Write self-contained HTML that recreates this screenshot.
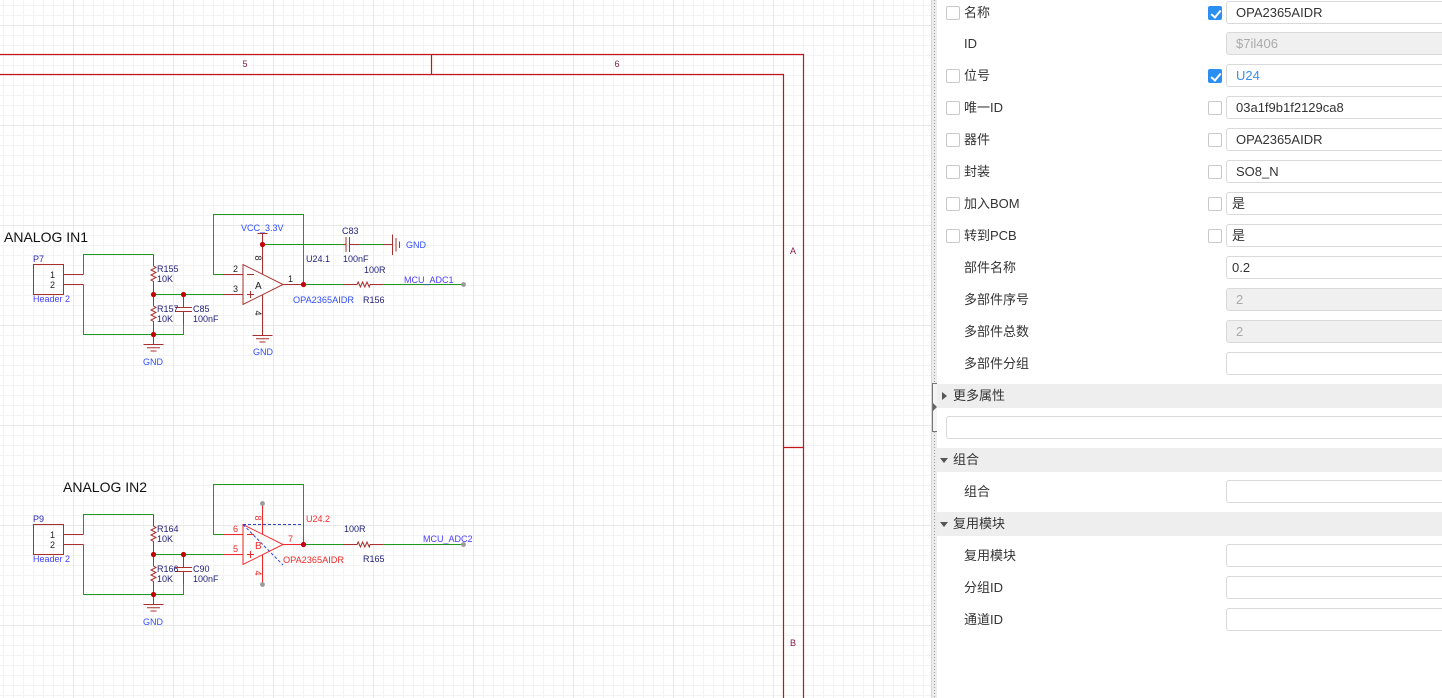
<!DOCTYPE html>
<html><head><meta charset="utf-8">
<style>
*{margin:0;padding:0;box-sizing:border-box}
html,body{width:1442px;height:698px;overflow:hidden;background:#fff;font-family:"Liberation Sans","Noto Sans CJK SC",sans-serif}
#sch{position:absolute;left:0;top:0}
.sep{position:absolute;left:931px;top:0;width:6px;height:698px;background:#ececec;border-left:1px solid #d6d6d6}
.sep:after{content:"";position:absolute;left:2px;top:0;width:1px;height:698px;background:repeating-linear-gradient(to bottom,#9a9a9a 0 1px,transparent 1px 3px)}
.handle{position:absolute;left:932px;top:383px;width:5px;height:49px;border:1px solid #777;border-right:none;background:#f4f4f4}
.handle:after{content:"";position:absolute;left:0;top:19px;border-left:4px solid #666;border-top:4px solid transparent;border-bottom:4px solid transparent}
.panel{position:absolute;left:937px;top:0;width:505px;height:698px;background:#fff;overflow:hidden}
.cb{position:absolute;width:14px;height:14px;border:1px solid #c9c9c9;border-radius:2px;background:#fff}
.cb.on{background:#2b8ff2;border-color:#2b8ff2}
.cb.on:after{content:"";position:absolute;left:4px;top:1px;width:4px;height:8px;border-right:2px solid #fff;border-bottom:2px solid #fff;transform:rotate(40deg)}
.lbl{position:absolute;left:27px;font-size:13px;color:#333;height:23px;line-height:23px;white-space:nowrap}
.inp{position:absolute;left:289px;width:240px;height:23px;border:1px solid #d9d9d9;border-radius:3px;font-size:13px;color:#333;padding-left:9px;line-height:21px;background:#fff;white-space:nowrap}
.inp.dis{background:#f0f0f0;color:#aaa}
.inp.p4{padding-left:5px}
.hdr{position:absolute;left:0;width:505px;height:24px;background:#eeeeee;font-size:13px;color:#333;line-height:24px;padding-left:16px}
.tri-r{position:absolute;left:5px;top:8px;border-left:5px solid #555;border-top:4px solid transparent;border-bottom:4px solid transparent}
.tri-d{position:absolute;left:3px;top:10px;border-top:5px solid #555;border-left:4px solid transparent;border-right:4px solid transparent}
</style></head><body>
<svg id="sch" width="931" height="698" viewBox="0 0 931 698" xmlns="http://www.w3.org/2000/svg" font-family="Liberation Sans, Arial, sans-serif">
<defs>
<pattern id="minor" width="10" height="10" patternUnits="userSpaceOnUse">
<rect x="3" y="0" width="1" height="10" fill="#f3f3f3"/>
<rect x="0" y="5" width="10" height="1" fill="#f3f3f3"/>
</pattern>
<pattern id="major" width="100" height="100" patternUnits="userSpaceOnUse">
<rect x="73" y="0" width="1" height="100" fill="#e8e8e8"/>
<rect x="0" y="25" width="100" height="1" fill="#e8e8e8"/>
</pattern>
</defs>
<rect width="931" height="698" fill="#fff"/>
<rect width="931" height="698" fill="url(#minor)"/>
<rect width="931" height="698" fill="url(#major)"/>

<!-- frame -->
<g stroke="#c2161c" stroke-width="1.2" fill="none">
<path d="M0,54.5 H803.5 V698"/>
<path d="M0,74.5 H783.5 V698"/>
<path d="M431.5,54.5 V74.5"/>
<path d="M783.5,447.5 H803.5"/>
</g>
<g font-size="9" fill="#8b1a4a" text-anchor="middle">
<text x="245" y="67">5</text>
<text x="617" y="67">6</text>
<text x="793" y="254">A</text>
<text x="793" y="646">B</text>
</g>

<!-- ========== CIRCUIT 1 ========== -->
<text x="4" y="242" font-size="14" fill="#111">ANALOG IN1</text>
<text x="33" y="262" font-size="9" fill="#2727b8">P7</text>
<rect x="33.5" y="264.5" width="30" height="30" fill="none" stroke="#a8302f" stroke-width="1"/>
<g font-size="9" fill="#222"><text x="50" y="278">1</text><text x="50" y="288">2</text></g>
<text x="33" y="302" font-size="9" fill="#4040ff">Header 2</text>
<g stroke="#a8302f" stroke-width="1" fill="none">
<path d="M63.5,274.5 H83.5 M63.5,284.5 H83.5"/>
<path d="M153.5,254.5 V266 l2.5,1.5 l-5,2.5 l5,2.5 l-5,2.5 l5,2.5 l-5,2.5 l2.5,1.5 V294.5"/>
<path d="M153.5,294.5 V306 l2.5,1.5 l-5,2.5 l5,2.5 l-5,2.5 l5,2.5 l-5,2.5 l2.5,1.5 V334.5"/>
<path d="M183.5,294.5 V307.5 M183.5,311.5 V324"/>
<path d="M175,307.5 H192 M175,311.5 H192"/>
<path d="M153.5,334.5 V344.5 M143.5,344.5 H163.5 M147,347.8 H160 M150.5,351 H156.5"/>
<path d="M223,294.5 H243"/>
</g>
<g stroke="#1f9a1f" stroke-width="1" fill="none">
<path d="M83.5,274.5 V254.5 H153.5"/>
<path d="M83.5,284.5 V334.5 H183.5 V324"/>
<path d="M153.5,294.5 H223"/>
</g>
<g fill="#c40000"><circle cx="153.5" cy="294.5" r="2.6"/><circle cx="183.5" cy="294.5" r="2.6"/><circle cx="153.5" cy="334.5" r="2.6"/></g>
<g font-size="9" fill="#1e1e78">
<text x="157" y="272">R155</text><text x="157" y="282">10K</text>
<text x="157" y="312">R157</text><text x="157" y="322">10K</text>
<text x="193" y="312">C85</text><text x="193" y="322">100nF</text>
</g>
<text x="143" y="365" font-size="9" fill="#2f4cff">GND</text>

<!-- op amp A -->
<g stroke="#1f9a1f" stroke-width="1" fill="none">
<path d="M223,274.5 H213.5 V214.5 H303.5 V284.5"/>
<path d="M262.5,244.5 H343"/>
<path d="M359,244.5 H383"/>
<path d="M303.5,284.5 H343 M383,284.5 H463"/>
</g>
<g stroke="#a8302f" stroke-width="1" fill="none">
<path d="M223,274.5 H243"/>
<polygon points="243,264.5 243,304.5 283,284.5"/>
<path d="M283,284.5 H303.5"/>
<path d="M262.5,233.5 V274.2 M257.5,233.5 H267.5"/>
<path d="M262.5,294.8 V335.5 M252.5,335.5 H272.5 M256,338.8 H269 M259.5,342 H265.5"/>
<path d="M343,244.5 H346 M349.5,244.5 H359 M346,237 V252 M349.5,237 V252"/>
<path d="M383,244.5 H392.5 M392.5,234.5 V255 M396,238 V251.5 M399.5,241.5 V248"/>
<path d="M343,284.5 H357 l1.2,-2.5 l2.2,5 l2.2,-5 l2.2,5 l2.2,-5 l2.2,5 l0.8,-2.5 H383"/>
<path d="M247,274.5 H254 M247,294.5 H254 M250.5,291 V298"/>
</g>
<g fill="#c40000"><circle cx="262.5" cy="244.5" r="2.6"/><circle cx="303.5" cy="284.5" r="2.6"/></g>
<circle cx="463.5" cy="284.5" r="2.4" fill="#9a9a9a"/>
<g font-size="9" fill="#222">
<text x="233" y="272">2</text><text x="233" y="292">3</text><text x="288" y="282">1</text>
<text x="255" y="289" font-size="10">A</text>
<text x="258" y="258" transform="rotate(90 258 258)" text-anchor="middle" dy="3">8</text>
<text x="258" y="313" transform="rotate(90 258 313)" text-anchor="middle" dy="3">4</text>
</g>
<g font-size="9" fill="#2f4cff">
<text x="241" y="231">VCC_3.3V</text>
<text x="253" y="355">GND</text>
<text x="406" y="248">GND</text>
<text x="293" y="303" textLength="61" lengthAdjust="spacingAndGlyphs">OPA2365AIDR</text>
<text x="404" y="283" fill="#4a3cff">MCU_ADC1</text>
</g>
<g font-size="9" fill="#1e1e78">
<text x="342" y="234">C83</text><text x="343" y="262">100nF</text>
<text x="306" y="262">U24.1</text>
<text x="364" y="273">100R</text><text x="363" y="303">R156</text>
</g>

<!-- ========== CIRCUIT 2 ========== -->
<text x="63" y="492" font-size="14" fill="#111">ANALOG IN2</text>
<text x="33" y="522" font-size="9" fill="#2727b8">P9</text>
<rect x="33.5" y="524.5" width="30" height="30" fill="none" stroke="#a8302f" stroke-width="1"/>
<g font-size="9" fill="#222"><text x="50" y="538">1</text><text x="50" y="548">2</text></g>
<text x="33" y="562" font-size="9" fill="#4040ff">Header 2</text>
<g stroke="#a8302f" stroke-width="1" fill="none">
<path d="M63.5,534.5 H83.5 M63.5,544.5 H83.5"/>
<path d="M153.5,514.5 V526 l2.5,1.5 l-5,2.5 l5,2.5 l-5,2.5 l5,2.5 l-5,2.5 l2.5,1.5 V554.5"/>
<path d="M153.5,554.5 V566 l2.5,1.5 l-5,2.5 l5,2.5 l-5,2.5 l5,2.5 l-5,2.5 l2.5,1.5 V594.5"/>
<path d="M183.5,554.5 V567.5 M183.5,571.5 V584"/>
<path d="M175,567.5 H192 M175,571.5 H192"/>
<path d="M153.5,594.5 V604.5 M143.5,604.5 H163.5 M147,607.8 H160 M150.5,611 H156.5"/>
</g>
<g stroke="#1f9a1f" stroke-width="1" fill="none">
<path d="M83.5,534.5 V514.5 H153.5"/>
<path d="M83.5,544.5 V594.5 H183.5 V584"/>
<path d="M153.5,554.5 H223"/>
</g>
<g fill="#c40000"><circle cx="153.5" cy="554.5" r="2.6"/><circle cx="183.5" cy="554.5" r="2.6"/><circle cx="153.5" cy="594.5" r="2.6"/></g>
<g font-size="9" fill="#1e1e78">
<text x="157" y="532">R164</text><text x="157" y="542">10K</text>
<text x="157" y="572">R166</text><text x="157" y="582">10K</text>
<text x="193" y="572">C90</text><text x="193" y="582">100nF</text>
</g>
<text x="143" y="625" font-size="9" fill="#2f4cff">GND</text>

<!-- op amp B (selected) -->
<g stroke="#1f9a1f" stroke-width="1" fill="none">
<path d="M223,534.5 H213.5 V484.5 H303.5 V544.5"/>
<path d="M303.5,544.5 H343 M383,544.5 H463"/>
</g>
<g stroke="#ee2a2a" stroke-width="1" fill="none">
<path d="M223,534.5 H243 M223,554.5 H243"/>
<polygon points="243,524.5 243,564.5 283,544.5"/>
<path d="M283,544.5 H303.5"/>
<path d="M262.5,503.5 V534.2"/>
<path d="M262.5,554.8 V584.5"/>
<path d="M247,534.5 H254 M247,554.5 H254 M250.5,551 V558"/>
</g>
<path d="M343,544.5 H357 l1.2,-2.5 l2.2,5 l2.2,-5 l2.2,5 l2.2,-5 l2.2,5 l0.8,-2.5 H383" stroke="#a8302f" stroke-width="1" fill="none"/>
<g stroke="#3344cc" stroke-width="1" fill="none" stroke-dasharray="3,2">
<path d="M243,524.5 H303.5"/>
<path d="M243,524.5 L283,565"/>
</g>
<circle cx="303.5" cy="544.5" r="2.6" fill="#c40000"/>
<g fill="#9a9a9a"><circle cx="262.5" cy="503.5" r="2.4"/><circle cx="262.5" cy="584.5" r="2.4"/><circle cx="463.5" cy="544.5" r="2.4"/></g>
<g font-size="9" fill="#ee2a2a">
<text x="233" y="532">6</text><text x="233" y="552">5</text><text x="288" y="542">7</text>
<text x="255" y="549" font-size="10">B</text>
<text x="258" y="518" transform="rotate(90 258 518)" text-anchor="middle" dy="3">8</text>
<text x="258" y="573" transform="rotate(90 258 573)" text-anchor="middle" dy="3">4</text>
<text x="306" y="522">U24.2</text>
<text x="283" y="563" textLength="61" lengthAdjust="spacingAndGlyphs">OPA2365AIDR</text>
</g>
<g font-size="9" fill="#1e1e78">
<text x="344" y="532">100R</text><text x="363" y="562">R165</text>
</g>
<text x="423" y="542" font-size="9" fill="#4a3cff">MCU_ADC2</text>
</svg>

<div class="sep"></div>
<div class="handle"></div>

<div class="panel">
  <div class="cb" style="left:9px;top:6px"></div>
  <div class="lbl" style="top:1px">名称</div>
  <div class="cb on" style="left:271px;top:6px"></div>
  <div class="inp" style="top:1px">OPA2365AIDR</div>

  <div class="lbl" style="top:32px">ID</div>
  <div class="inp dis" style="top:32px">$7il406</div>

  <div class="cb" style="left:9px;top:69px"></div>
  <div class="lbl" style="top:64px">位号</div>
  <div class="cb on" style="left:271px;top:69px"></div>
  <div class="inp" style="top:64px;color:#3b8cf0">U24</div>

  <div class="cb" style="left:9px;top:101px"></div>
  <div class="lbl" style="top:96px">唯一ID</div>
  <div class="cb" style="left:271px;top:101px"></div>
  <div class="inp" style="top:96px">03a1f9b1f2129ca8</div>

  <div class="cb" style="left:9px;top:133px"></div>
  <div class="lbl" style="top:128px">器件</div>
  <div class="cb" style="left:271px;top:133px"></div>
  <div class="inp" style="top:128px">OPA2365AIDR</div>

  <div class="cb" style="left:9px;top:165px"></div>
  <div class="lbl" style="top:160px">封装</div>
  <div class="cb" style="left:271px;top:165px"></div>
  <div class="inp" style="top:160px">SO8_N</div>

  <div class="cb" style="left:9px;top:197px"></div>
  <div class="lbl" style="top:192px">加入BOM</div>
  <div class="cb" style="left:271px;top:197px"></div>
  <div class="inp p4" style="top:192px">是</div>

  <div class="cb" style="left:9px;top:229px"></div>
  <div class="lbl" style="top:224px">转到PCB</div>
  <div class="cb" style="left:271px;top:229px"></div>
  <div class="inp p4" style="top:224px">是</div>

  <div class="lbl" style="top:256px">部件名称</div>
  <div class="inp p4" style="top:256px">0.2</div>

  <div class="lbl" style="top:288px">多部件序号</div>
  <div class="inp dis" style="top:288px">2</div>

  <div class="lbl" style="top:320px">多部件总数</div>
  <div class="inp dis" style="top:320px">2</div>

  <div class="lbl" style="top:352px">多部件分组</div>
  <div class="inp" style="top:352px"></div>

  <div class="hdr" style="top:384px"><span class="tri-r"></span>更多属性</div>
  <div class="inp" style="top:416px;left:9px;width:520px"></div>

  <div class="hdr" style="top:448px"><span class="tri-d"></span>组合</div>
  <div class="lbl" style="top:480px">组合</div>
  <div class="inp" style="top:480px"></div>

  <div class="hdr" style="top:512px"><span class="tri-d"></span>复用模块</div>
  <div class="lbl" style="top:544px">复用模块</div>
  <div class="inp" style="top:544px"></div>
  <div class="lbl" style="top:576px">分组ID</div>
  <div class="inp" style="top:576px"></div>
  <div class="lbl" style="top:608px">通道ID</div>
  <div class="inp" style="top:608px"></div>
</div>
</body></html>
